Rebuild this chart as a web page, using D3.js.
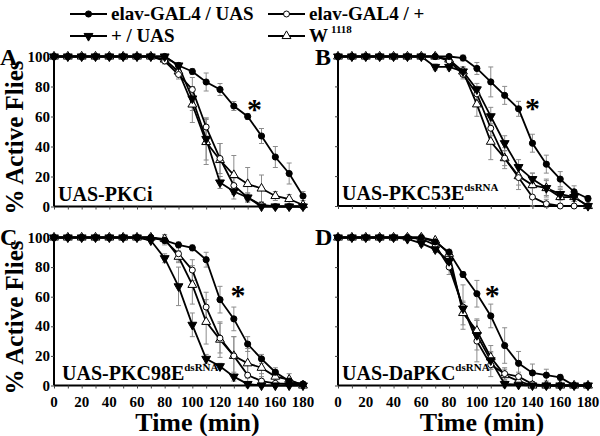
<!DOCTYPE html>
<html><head><meta charset="utf-8">
<script src="https://cdn.jsdelivr.net/npm/d3@7"></script>
<style>
html,body{margin:0;padding:0;background:#fff;}
svg text{font-family:"Liberation Serif","Times New Roman",serif;font-weight:bold;fill:#000;}
</style></head>
<body>
<svg id="chart" width="600" height="436"></svg>
<script>
// ---------- data ----------
const times = [0,10,20,30,40,50,60,70,80,90,100,110,120,130,140,150,160,170,180];
const xTickLabels = [0,20,40,60,80,100,120,140,160,180];
const yTickLabels = [0,20,40,60,80,100];
const seriesNames = ["elav-GAL4 / UAS","elav-GAL4 / +","+ / UAS","W"];
const panelLetters = ["A","B","C","D"];
const panelGenes = ["UAS-PKCi","UAS-PKC53E","UAS-PKC98E","UAS-DaPKC"];
const panelSup = ["","dsRNA","dsRNA","dsRNA"];
const asteriskT = [145,140,133,111];
const asteriskV = [68,68,64,64];

// Panel A
const A_elavUAS  = [100,100,100,100,100,100,100,100,100,94,90,83,78,67,60,47,33,22,7];
const A_elavPlus = [100,100,100,100,100,100,100,100,97,88,78,53,32,14,6,1,0,0,0];
const A_plusUAS  = [100,100,100,100,100,100,100,100,100,94,72,45,16,10,6,0,0,0,0];
const A_w1118    = [100,100,100,100,100,100,100,100,98,90,68,43,31,21,15,12,7,5,1];
const A_elavUAS_err  = [0,0,0,0,0,0,0,0,1,2,2,6,4,3,2,5,7,7,3];
const A_elavPlus_err = [0,0,0,0,0,0,0,0,2,3,8,6,10,5,3,2,0,0,0];
const A_plusUAS_err  = [0,0,0,0,0,0,0,0,0,2,8,14,4,5,3,0,0,0,0];
const A_w1118_err    = [0,0,0,0,0,0,0,0,2,2,12,15,11,13,11,9,3,3,1];
// Panel B
const B_elavUAS  = [100,100,100,100,100,100,100,100,100,99,92,83,74,65,42,28,18,9.5,5];
const B_elavPlus = [100,100,100,100,100,100,100,100,97,88,75,52,32,19,6,1.5,0,0,0];
const B_plusUAS  = [100,100,100,100,100,100,100,93,93,90,78,60,42,26,18,12,8,6,0];
const B_w1118    = [100,100,100,100,100,100,100,100,98,90,68,43,32,20,14,12,6,6,0];
const B_elavUAS_err  = [0,0,0,0,0,0,0,0,0,2,4,10,6,5,6,6,5,4,2];
const B_elavPlus_err = [0,0,0,0,0,0,0,0,0,3,5,5,5,8,6,3,1,3,0];
const B_plusUAS_err  = [0,0,0,0,0,0,0,2,2,3,4,6,5,5,4,5,4,0,0];
const B_w1118_err    = [0,0,0,0,0,0,0,0,0,3,8,12,7,6,8,6,5,3,0];
// Panel C
const C_elavUAS  = [100,100,100,100,100,100,100,100,98,95,93,85,58,45,28,18,9,3,1];
const C_elavPlus = [100,100,100,100,100,100,100,100,98,89,78,53,32,20,7,3,1.5,1,1];
const C_plusUAS  = [100,100,100,100,100,100,100,98,86,67,41,18,13,6,1,0,0,0,0];
const C_w1118    = [100,100,100,100,100,100,100,100,99,87,68,43,31,20,15,12,6,4,0];
const C_elavUAS_err  = [0,0,0,0,0,0,0,0,0,2,2,5,9,8,5,3,3,2,0];
const C_elavPlus_err = [0,0,0,0,0,0,0,0,3,5,7,10,10,13,8,5,3,0,0];
const C_plusUAS_err  = [0,0,0,0,0,0,0,0,3,13,8,3,2,3,0,0,0,0,0];
const C_w1118_err    = [0,0,0,0,0,0,0,0,3,4,13,15,12,13,10,6,4,4,0];
// Panel D
const D_elavUAS  = [100,100,100,100,100,100,100,97,90,75,62,47,27,15,8.5,7,5.5,0,0];
const D_elavPlus = [100,100,100,100,100,100,99,95,80,53,30,14,8,6,1,0,0,0,0];
const D_plusUAS  = [100,100,100,100,100,99,96,92,84,52,34,17,1,0.5,0,0,0,0,0];
const D_w1118    = [100,100,100,100,100,100,100,98,89,49,37,19,7,3,0,0,0,0,0];
const D_elavUAS_err  = [0,0,0,0,0,0,0,0,0,2,9,8,12,8,6,4,2,0,0];
const D_elavPlus_err = [0,0,0,0,0,0,0,0,5,15,14,8,4,3,0,0,0,0,0];
const D_plusUAS_err  = [0,0,0,0,0,0,2,2,4,4,10,6,2,0,0,0,0,0,0];
const D_w1118_err    = [0,0,0,0,0,0,0,0,3,8,8,8,4,2,0,0,0,0,0];

const panelData = [
  {vals:[A_elavUAS,A_elavPlus,A_plusUAS,A_w1118], errs:[A_elavUAS_err,A_elavPlus_err,A_plusUAS_err,A_w1118_err]},
  {vals:[B_elavUAS,B_elavPlus,B_plusUAS,B_w1118], errs:[B_elavUAS_err,B_elavPlus_err,B_plusUAS_err,B_w1118_err]},
  {vals:[C_elavUAS,C_elavPlus,C_plusUAS,C_w1118], errs:[C_elavUAS_err,C_elavPlus_err,C_plusUAS_err,C_w1118_err]},
  {vals:[D_elavUAS,D_elavPlus,D_plusUAS,D_w1118], errs:[D_elavUAS_err,D_elavPlus_err,D_plusUAS_err,D_w1118_err]}
];

// ---------- layout ----------
const svg = d3.select("#chart");
const boxes = [
  {x0:54, x1:303, y0:56.5, y1:206.5, yLab:true,  xLab:false},
  {x0:338,x1:588, y0:56.5, y1:206,   yLab:false, xLab:false},
  {x0:54, x1:303, y0:237.5,y1:385.5, yLab:true,  xLab:true},
  {x0:338,x1:588, y0:237.5,y1:385.5, yLab:false, xLab:true}
];
const letterPos = [[0,65],[315,65],[0,245],[315,245]];

// marker symbols
const markerStyle = [
  {type:d3.symbolCircle, size:30, fill:"#000", rot:0},
  {type:d3.symbolCircle, size:28, fill:"#fff", rot:0},
  {type:d3.symbolTriangle, size:34, fill:"#000", rot:180},
  {type:d3.symbolTriangle, size:34, fill:"#fff", rot:0}
];
function drawMarker(g, x, y, s){
  g.append("path")
    .attr("d", d3.symbol().type(s.type).size(s.size)())
    .attr("transform", `translate(${x},${y}) rotate(${s.rot})`)
    .attr("fill", s.fill).attr("stroke","#000").attr("stroke-width",1);
}

boxes.forEach((b, p) => {
  const x = d3.scaleLinear().domain([0,180]).range([b.x0,b.x1]);
  const y = d3.scaleLinear().domain([0,100]).range([b.y1,b.y0]);
  const g = svg.append("g");

  // axes
  const xAxis = d3.axisBottom(x).tickValues(times).tickSize(3).tickFormat("");
  const gx = g.append("g").attr("transform",`translate(0,${b.y1})`).call(xAxis);
  gx.select(".domain").attr("stroke-width",2).attr("d",`M${b.x0},0H${b.x1}`);
  gx.selectAll(".tick line").attr("stroke","#444");
  if (b.xLab) {
    g.selectAll(".xl").data(xTickLabels).enter().append("text")
      .attr("x", d => x(d)).attr("y", b.y1 + 21)
      .attr("text-anchor","middle").attr("font-size",15).text(d => d);
  }
  const yAxis = d3.axisLeft(y).tickValues(yTickLabels).tickSize(3).tickFormat("");
  const gy = g.append("g").attr("transform",`translate(${b.x0},0)`).call(yAxis);
  gy.select(".domain").attr("stroke-width",2).attr("d",`M0,${b.y0}V${b.y1}`);
  gy.selectAll(".tick line").attr("stroke","#444");
  if (b.yLab) {
    g.selectAll(".yl").data(yTickLabels).enter().append("text")
      .attr("x", b.x0 - 4).attr("y", d => y(d) + 5)
      .attr("text-anchor","end").attr("font-size",15).text(d => d);
  }

  const pd = panelData[p];
  // error bars
  pd.vals.forEach((vals, s) => {
    const errs = pd.errs[s];
    const eg = g.append("g").attr("stroke","#8c8c8c").attr("stroke-width",1);
    vals.forEach((v, i) => {
      const e = errs[i];
      if (!e) return;
      const cx = x(times[i]);
      const yt = y(Math.min(v + e, 102)), yb = y(Math.max(v - e, -1));
      eg.append("line").attr("x1",cx).attr("x2",cx).attr("y1",yt).attr("y2",yb);
      eg.append("line").attr("x1",cx-2.5).attr("x2",cx+2.5).attr("y1",yt).attr("y2",yt);
      eg.append("line").attr("x1",cx-2.5).attr("x2",cx+2.5).attr("y1",yb).attr("y2",yb);
    });
  });
  // lines + markers
  const order = [3,1,2,0];
  const line = d3.line().x((d,i) => x(times[i])).y(d => y(d));
  order.forEach(s => {
    g.append("path").datum(pd.vals[s]).attr("d", line)
      .attr("fill","none").attr("stroke","#000").attr("stroke-width",1.8);
  });
  order.forEach(s => {
    pd.vals[s].forEach((v,i) => drawMarker(g, x(times[i]), y(v), markerStyle[s]));
  });

  // asterisk
  g.append("text").attr("x", x(asteriskT[p])).attr("y", y(asteriskV[p]) + 14)
    .attr("text-anchor","middle").attr("font-size",30).text("*");

  // gene label
  const t = g.append("text").attr("x", b.x0 + (p===2 ? 8 : 4)).attr("y", b.y1 - 6)
    .attr("font-size",20);
  t.append("tspan").text(panelGenes[p]);
  if (panelSup[p]) t.append("tspan").attr("dy",-9).attr("font-size",11).text(panelSup[p]);

  // panel letter
  g.append("text").attr("x", letterPos[p][0]).attr("y", letterPos[p][1])
    .attr("font-size",24).text(panelLetters[p]);

  // axis titles
  if (b.yLab) {
    g.append("text").attr("transform",`translate(23,${(b.y0+b.y1)/2 + 6}) rotate(-90)`)
      .attr("text-anchor","middle").attr("font-size",25).text("% Active Flies");
  }
  if (b.xLab) {
    g.append("text").attr("x", (b.x0+b.x1)/2 + 19).attr("y", 431)
      .attr("text-anchor","middle").attr("font-size",26).text("Time (min)");
  }
});

// ---------- legend ----------
const legendPos = [[70,14],[268,14],[70,36],[268,36]];
seriesNames.forEach((name, s) => {
  const [lx, ly] = legendPos[s];
  const lg = svg.append("g");
  lg.append("line").attr("x1",lx).attr("x2",lx+37).attr("y1",ly).attr("y2",ly)
    .attr("stroke","#000").attr("stroke-width",2);
  drawMarker(lg, lx+18.5, ly, markerStyle[s]);
  const t = lg.append("text").attr("x", lx+41).attr("y", ly+6).attr("font-size",19);
  t.append("tspan").text(name);
  if (s === 3) t.append("tspan").attr("dx",3).attr("dy",-9).attr("font-size",11).text("1118");
});
</script>
</body></html>
